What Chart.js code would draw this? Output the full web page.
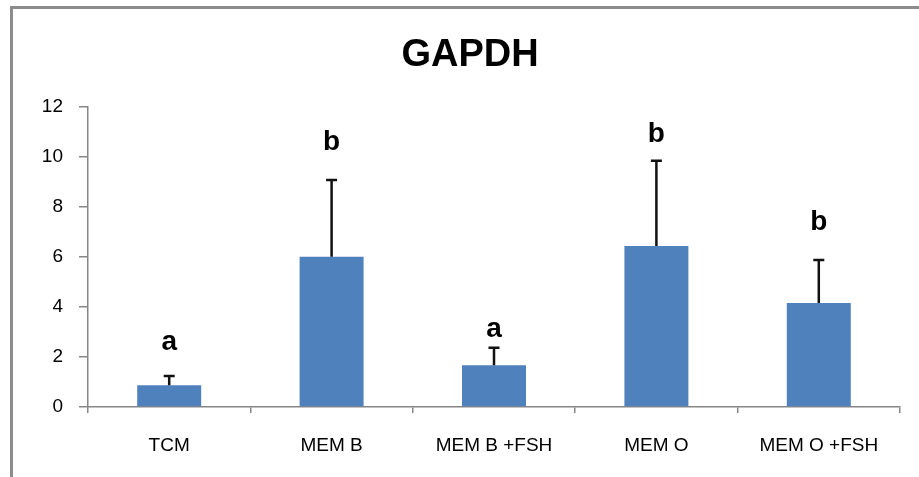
<!DOCTYPE html>
<html>
<head>
<meta charset="utf-8">
<script src="https://cdn.jsdelivr.net/npm/chart.js@4"></script>
<style>
  body { margin: 0; background: #fff; }
  #frame {
    position: absolute; left: 10px; top: 6px;
    width: 906px; height: 468px;
    border-top: 3px solid #8c8c8c; border-left: 3px solid #8c8c8c;
  }
</style>
</head>
<body>
<div id="frame"><canvas id="myChart" width="906" height="468"></canvas></div>
<script>
// Werte
const groups = ["TCM", "MEM B", "MEM B +FSH", "MEM O", "MEM O +FSH"];
const means = [0.87, 6.0, 1.67, 6.43, 4.15];
const sd = [0.37, 3.07, 0.70, 3.41, 1.72];
const letters = ["a", "b", "a", "b", "b"];
const letterAt = [2.27, 10.27, 2.79, 10.6, 7.07];
const yTicks = [0, 2, 4, 6, 8, 10, 12];

const axisGray = "#868686";
const font = "'Liberation Sans', Arial, sans-serif";

// Fehlerbalken und Buchstaben über den Balken
const extras = {
  id: "extras",
  afterDatasetsDraw(chart) {
    const ctx = chart.ctx;
    const y = chart.scales.y;
    const bars = chart.getDatasetMeta(0).data;
    ctx.save();
    bars.forEach((bar, i) => {
      const top = y.getPixelForValue(means[i] + sd[i]);
      const base = y.getPixelForValue(means[i]);
      ctx.strokeStyle = "#111";
      ctx.lineWidth = 2.5;
      ctx.beginPath();
      ctx.moveTo(bar.x, base);
      ctx.lineTo(bar.x, top);
      ctx.moveTo(bar.x - 5.5, top);
      ctx.lineTo(bar.x + 5.5, top);
      ctx.stroke();

      ctx.fillStyle = "#000";
      ctx.font = "bold 28px " + font;
      ctx.textAlign = "center";
      ctx.textBaseline = "alphabetic";
      ctx.fillText(letters[i], bar.x, y.getPixelForValue(letterAt[i]));
    });
    ctx.restore();
  }
};

new Chart(document.getElementById("myChart").getContext("2d"), {
  type: "bar",
  data: {
    labels: groups,
    datasets: [{
      data: means,
      backgroundColor: "#4f81bd",
      barPercentage: 1,
      categoryPercentage: 0.394
    }]
  },
  options: {
    responsive: false,
    animation: false,
    devicePixelRatio: 1,
    layout: { padding: { left: 27, right: 19, top: 0, bottom: 20 } },
    plugins: {
      legend: { display: false },
      tooltip: { enabled: false },
      title: {
        display: true,
        text: "GAPDH",
        color: "#000",
        font: { family: font, size: 38, weight: "bold" },
        padding: { top: 24, bottom: 28 }
      }
    },
    scales: {
      x: {
        afterFit: s => { s.height = 50; },
        border: { display: true, color: axisGray, width: 1.5 },
        grid: { drawOnChartArea: false, drawTicks: true, tickLength: 6, color: axisGray, lineWidth: 1.5 },
        ticks: { color: "#000", padding: 21, font: { family: font, size: 19 } }
      },
      y: {
        min: 0,
        max: 12,
        afterFit: s => { s.width = 48; },
        afterBuildTicks: s => { s.ticks = yTicks.map(v => ({ value: v })); },
        border: { display: true, color: axisGray, width: 1.5 },
        grid: { drawOnChartArea: false, drawTicks: true, tickLength: 9, color: axisGray, lineWidth: 1.5 },
        ticks: { color: "#000", padding: 16, font: { family: font, size: 19 } }
      }
    }
  },
  plugins: [extras]
});
</script>
</body>
</html>
